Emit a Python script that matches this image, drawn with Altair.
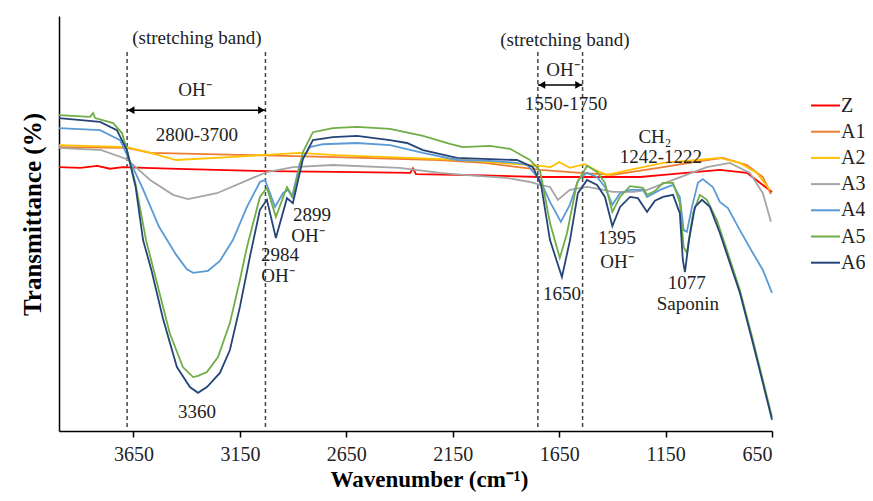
import altair as alt
import pandas as pd

# ---------------- data ----------------
SERIES = ["Z", "A1", "A2", "A3", "A4", "A5", "A6"]
COLORS = ["#FF0000", "#ED7D31", "#FFC000", "#A5A5A5", "#5B9BD5", "#70AD47", "#264478"]

Z_wn = [4000, 3900, 3820, 3760, 3700, 3600, 3400, 3020, 2600, 2350, 2337, 2323, 2000, 1740, 1270, 1160, 895, 768, 707, 650]
Z_t = [63.6, 63.4, 63.9, 63.2, 63.6, 63.4, 63.1, 62.6, 62.4, 62.2, 63.3, 61.9, 61.6, 61.2, 61.2, 61.7, 62.9, 62.2, 59.8, 57.6]

A1_wn = [4000, 3681, 3570, 3100, 2700, 2210, 2000, 1740, 1550, 1397, 1162, 956, 881, 768, 693, 655]
A1_t = [68.4, 68.2, 67.0, 66.5, 66.0, 65.3, 64.6, 62.9, 62.2, 61.7, 63.6, 65.3, 65.8, 64.1, 61.2, 57.1]

A2_wn = [4000, 3681, 3570, 3450, 3200, 2870, 2700, 2360, 2100, 1790, 1740, 1690, 1650, 1600, 1530, 1480,
         1426, 1317, 1162, 1003, 895, 801, 721, 660]
A2_t = [68.9, 68.4, 67.0, 65.3, 66.0, 67.0, 66.5, 65.8, 65.3, 64.1, 63.9, 63.6, 64.8, 63.4, 64.3, 62.9,
        61.7, 62.9, 64.6, 65.3, 65.8, 64.6, 62.2, 58.1]

A3_wn = [4000, 3800, 3681, 3572, 3464, 3394, 3258, 3103, 3023, 2900, 2713, 2400, 2210, 2100, 1900, 1787,
         1740, 1693, 1656, 1600, 1519, 1440, 1400, 1300, 1237, 1115, 956, 848, 754, 693, 655]
A3_t = [68.2, 67.7, 65.5, 60.5, 56.9, 55.9, 57.3, 60.7, 62.4, 63.6, 64.1, 63.4, 62.2, 61.7, 61.0, 60.0,
        59.3, 58.8, 55.7, 58.1, 58.8, 58.1, 57.6, 57.6, 58.1, 60.5, 63.6, 64.6, 62.2, 57.3, 50.4]

A4_wn = [4000, 3807, 3713, 3676, 3610, 3530, 3450, 3400, 3370, 3300, 3244, 3183, 3117, 3056, 3032, 2985,
         2948, 2924, 2905, 2868, 2821, 2760, 2600, 2445, 2290, 2130, 1975, 1848, 1800, 1740, 1693, 1642,
         1600, 1560, 1520, 1472, 1435, 1400, 1364, 1317, 1256, 1237, 1176, 1115, 1083, 1065, 1050, 1026,
         998, 975, 928, 895, 857, 801, 740, 693, 650]
A4_t = [73.0, 72.5, 70.1, 66.0, 58.8, 49.2, 42.5, 39.0, 38.1, 38.6, 41.0, 46.0, 54.0, 60.0, 60.5, 54.0,
        57.3, 58.1, 56.4, 64.6, 68.4, 69.1, 69.4, 68.9, 67.0, 65.3, 65.1, 64.6, 64.1, 60.5, 55.2, 50.4,
        54.5, 60.5, 62.2, 61.2, 58.8, 54.5, 57.3, 58.1, 58.1, 56.4, 58.1, 59.3, 56.4, 48.4, 48.0, 54.0,
        59.8, 60.7, 58.8, 55.2, 53.7, 48.4, 42.9, 38.8, 33.3]

A5_wn = [4000, 3854, 3840, 3830, 3746, 3704, 3681, 3640, 3591, 3540, 3480, 3418, 3370, 3347, 3305, 3253,
         3197, 3150, 3117, 3056, 3023, 2981, 2929, 2901, 2854, 2807, 2713, 2600, 2445, 2290, 2163, 2102,
         1975, 1881, 1787, 1740, 1693, 1647, 1613, 1566, 1519, 1472, 1435, 1400, 1364, 1317, 1256, 1237,
         1200, 1162, 1115, 1083, 1065, 1050, 1021, 989, 956, 909, 862, 801, 740, 693, 650]
A5_t = [76.1, 75.7, 76.6, 75.4, 74.2, 71.8, 67.7, 59.5, 46.0, 35.7, 23.6, 15.4, 13.0, 13.3, 14.2, 17.8,
        26.0, 36.4, 44.3, 56.4, 58.6, 51.6, 58.8, 56.4, 67.2, 72.0, 73.0, 73.3, 72.8, 71.1, 69.2, 68.4,
        68.7, 68.0, 65.3, 62.7, 50.1, 41.7, 47.7, 59.8, 63.9, 62.4, 59.8, 52.8, 56.4, 59.0, 58.6, 56.9,
        57.8, 59.8, 59.8, 55.0, 44.3, 42.9, 52.5, 56.9, 55.7, 50.8, 43.6, 34.0, 22.0, 12.3, 3.4]

A6_wn = [4000, 3807, 3728, 3681, 3640, 3605, 3565, 3511, 3446, 3385, 3347, 3305, 3244, 3197, 3150, 3103,
         3056, 3023, 2981, 2929, 2901, 2854, 2807, 2713, 2600, 2445, 2365, 2290, 2130, 1975, 1848, 1773,
         1735, 1693, 1637, 1599, 1562, 1519, 1472, 1435, 1400, 1364, 1317, 1280, 1237, 1200, 1162, 1115,
         1083, 1069, 1059, 1040, 1012, 979, 942, 895, 848, 801, 740, 693, 650]
A6_t = [75.4, 74.5, 72.5, 67.7, 58.8, 46.0, 38.6, 27.0, 15.4, 10.6, 9.2, 10.6, 14.0, 19.5, 29.9, 42.0,
        53.3, 55.7, 46.5, 56.1, 54.9, 65.5, 70.1, 70.8, 71.1, 70.1, 69.4, 67.7, 65.8, 65.5, 65.3, 63.6,
        59.3, 46.0, 37.1, 46.0, 57.3, 60.5, 59.3, 56.4, 49.4, 54.0, 56.4, 56.1, 52.8, 55.5, 56.4, 56.9,
        52.5, 41.2, 38.3, 46.0, 54.0, 55.7, 54.0, 47.7, 40.5, 33.3, 21.2, 11.6, 2.7]

XTICKS = [3650, 3150, 2650, 2150, 1650, 1150, 650]

# band limits (dashed lines) and arrows
DASH_WN = [3680, 3030, 1750, 1540]
DASH_TOP = 91.3
DASH_BOTTOM = 0.8
ARROW_FROM = [3680, 1750]
ARROW_TO = [3030, 1540]
ARROW_T = [77.3, 83.4]

# annotations
ANN_TEXT = ["(stretching band)", "OH⁻", "2800-3700", "2899", "OH⁻", "2984", "OH⁻", "3360",
            "(stretching band)", "OH⁻", "1550-1750", "CH₂", "1242-1222", "1395", "OH⁻", "1650",
            "1077", "Saponin"]
ANN_WN = [3352, 3361, 3352, 2811, 2830, 2962, 2971, 3352,
          1623, 1632, 1618, 1200, 1172, 1378, 1378, 1637,
          1050, 1045]
ANN_T = [94.7, 82.2, 71.3, 52.0, 46.9, 42.3, 37.4, 4.6,
         94.2, 87.0, 78.8, 70.8, 66.0, 46.4, 40.7, 33.0,
         35.6, 30.6]

# ---------------- build tables ----------------
WNS = [Z_wn, A1_wn, A2_wn, A3_wn, A4_wn, A5_wn, A6_wn]
TS = [Z_t, A1_t, A2_t, A3_t, A4_t, A5_t, A6_t]
rows = []
for name, wn, t in zip(SERIES, WNS, TS):
    assert len(wn) == len(t), name
    rows += [{"series": name, "wn": w, "T": v} for w, v in zip(wn, t)]
df = pd.DataFrame(rows)

dash_df = pd.DataFrame({"wn": DASH_WN, "top": DASH_TOP, "bottom": DASH_BOTTOM})
arrow_df = pd.DataFrame({"a": ARROW_FROM, "b": ARROW_TO, "T": ARROW_T})
ann_df = pd.DataFrame({"text": ANN_TEXT, "wn": ANN_WN, "T": ANN_T})

SERIF = "Liberation Serif"
x_scale = alt.Scale(domain=[650, 4000], reverse=True, nice=False, zero=False)
y_scale = alt.Scale(domain=[0, 100], nice=False, zero=False)

x_axis = alt.Axis(values=XTICKS, title="Wavenumber (cm⁻¹)", grid=False, format="d",
                  labelFont=SERIF, labelFontSize=20, labelColor="#222", labelPadding=7,
                  tickSize=6, tickColor="black", tickWidth=1.5,
                  domainColor="black", domainWidth=1.5,
                  titleFont=SERIF, titleFontSize=23, titleFontWeight="bold", titleColor="black",
                  titlePadding=4, titleX=370)
y_axis = alt.Axis(title="Transmittance (%)", labels=False, ticks=False, grid=False,
                  domainColor="black", domainWidth=1.5,
                  titleFont=SERIF, titleFontSize=25, titleFontWeight="bold", titleColor="black",
                  titlePadding=14, titleY=198)

lines = alt.Chart(df).mark_line(strokeWidth=1.8).encode(
    x=alt.X("wn:Q", scale=x_scale, axis=x_axis),
    y=alt.Y("T:Q", scale=y_scale, axis=y_axis),
    color=alt.Color("series:N", sort=SERIES,
                    scale=alt.Scale(domain=SERIES, range=COLORS),
                    legend=alt.Legend(title=None, orient="none", legendX=751, legendY=74,
                                      symbolType="stroke", symbolSize=841, symbolStrokeWidth=2,
                                      labelFont=SERIF, labelFontSize=20, labelColor="#222",
                                      labelOffset=0, rowPadding=0.2, padding=0)),
)

dashes = alt.Chart(dash_df).mark_rule(strokeDash=[4, 3], strokeWidth=1.5, color="#444").encode(
    x=alt.X("wn:Q", scale=x_scale),
    y=alt.Y("top:Q", scale=y_scale),
    y2="bottom:Q",
)

arrow_lines = alt.Chart(arrow_df).mark_rule(strokeWidth=1.5, color="black").encode(
    x=alt.X("a:Q", scale=x_scale), x2="b:Q", y=alt.Y("T:Q", scale=y_scale)
)
head_left = alt.Chart(arrow_df).mark_point(shape="triangle-left", filled=True, size=60,
                                           color="black", opacity=1, xOffset=4).encode(
    x=alt.X("a:Q", scale=x_scale), y=alt.Y("T:Q", scale=y_scale)
)
head_right = alt.Chart(arrow_df).mark_point(shape="triangle-right", filled=True, size=60,
                                            color="black", opacity=1, xOffset=-4).encode(
    x=alt.X("b:Q", scale=x_scale), y=alt.Y("T:Q", scale=y_scale)
)

labels = alt.Chart(ann_df).mark_text(font=SERIF, fontSize=19, color="#222",
                                     align="center", baseline="middle").encode(
    x=alt.X("wn:Q", scale=x_scale), y=alt.Y("T:Q", scale=y_scale), text="text:N"
)

chart = alt.layer(dashes, lines, arrow_lines, head_left, head_right, labels).properties(
    width=713, height=415,
    autosize=alt.AutoSizeParams(type="none"),
    padding={"left": 51, "top": 8, "right": 93, "bottom": 62},
    background="white",
).configure_view(stroke=None)

chart.save("out.html", embed_options={"renderer": "svg", "actions": False})
